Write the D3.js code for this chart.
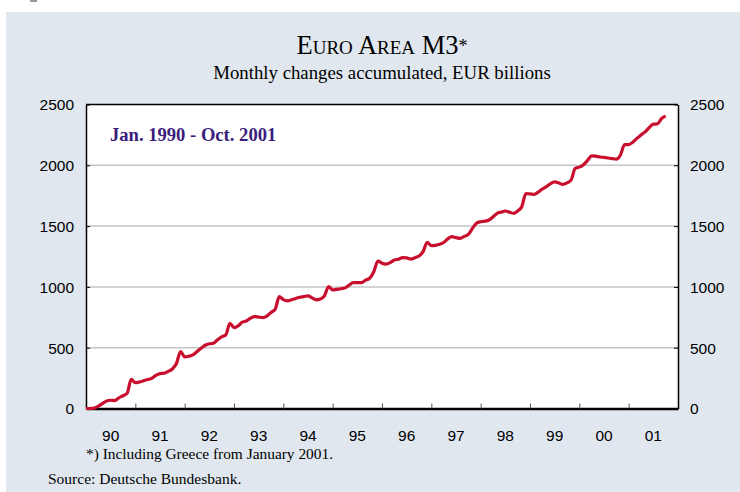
<!DOCTYPE html>
<html lang="en">
<head>
<meta charset="UTF-8">
<title>Euro Area M3</title>
<script src="https://cdn.jsdelivr.net/npm/d3@7"></script>
<style>
body{margin:0;background:#fff;}
svg{display:block;}
.tick text{font-family:"Liberation Sans",Arial,sans-serif;font-size:15.5px;fill:#000;}
.serif{font-family:"Liberation Serif","Times New Roman",serif;}
</style>
</head>
<body>
<script>
// monthly changes accumulated, EUR bn, Jan 1990 .. Oct 2001
var m3_1990=[0,0,3,20,40,62,68,65,88,105,125,240];
var m3_1991=[212,218,228,238,248,272,287,290,305,325,370,468];
var m3_1992=[425,430,441,468,496,520,532,537,565,590,605,701];
var m3_1993=[665,680,710,720,742,755,752,748,760,790,815,920];
var m3_1994=[895,885,895,905,915,920,926,910,893,900,926,1002];
var m3_1995=[975,980,985,992,1015,1035,1035,1035,1055,1071,1125,1213];
var m3_1996=[1195,1188,1200,1221,1228,1240,1238,1229,1240,1254,1290,1366];
var m3_1997=[1339,1342,1350,1365,1395,1413,1405,1399,1415,1432,1481,1525];
var m3_1998=[1536,1540,1550,1575,1605,1615,1624,1615,1605,1625,1659,1768];
var m3_1999=[1765,1761,1780,1805,1825,1850,1864,1855,1843,1855,1880,1975];
var m3_2000=[1985,2005,2040,2078,2075,2068,2065,2060,2055,2051,2085,2171];
var m3_2001=[2170,2190,2221,2250,2275,2310,2338,2340,2385,2406];
var yearLabels=["90","91","92","93","94","95","96","97","98","99","00","01"];
var yTicks=[0,500,1000,1500,2000,2500];

var values=[].concat(m3_1990,m3_1991,m3_1992,m3_1993,m3_1994,m3_1995,
  m3_1996,m3_1997,m3_1998,m3_1999,m3_2000,m3_2001);

var W=740,H=492;
var pL=86,pR=678,pT=104.5,pB=408.5;

var svg=d3.select("body").append("svg").attr("width",W).attr("height",H);

// panel
svg.append("rect").attr("x",6).attr("y",12).attr("width",W-6).attr("height",H-12).attr("fill","#e0e7ef");
svg.append("rect").attr("x",30).attr("y",0).attr("width",7).attr("height",2).attr("fill","#999");

var x=d3.scaleLinear().domain([0,144]).range([pL,pR]);
var y=d3.scaleLinear().domain([0,2500]).range([pB,pT]);

svg.append("rect").attr("x",pL).attr("y",pT).attr("width",pR-pL).attr("height",pB-pT).attr("fill","#fff");

// grid
svg.append("g").selectAll("line").data(yTicks.slice(1,-1)).enter().append("line")
  .attr("x1",pL).attr("x2",pR)
  .attr("y1",function(d){return y(d);}).attr("y2",function(d){return y(d);})
  .attr("stroke","#c4c4c4").attr("stroke-width",1.5);

// axes
var yl=svg.append("g").attr("transform","translate("+pL+",0)")
  .call(d3.axisLeft(y).tickValues(yTicks).tickFormat(d3.format("d")).tickSizeInner(-4).tickSizeOuter(0).tickPadding(12));
var yr=svg.append("g").attr("transform","translate("+pR+",0)")
  .call(d3.axisRight(y).tickValues(yTicks).tickFormat(d3.format("d")).tickSizeInner(-4).tickSizeOuter(0).tickPadding(12));
[yl,yr].forEach(function(g){
  g.select(".domain").attr("stroke","#000").attr("stroke-width",1.5);
  g.selectAll(".tick line").attr("stroke","#000");
  g.selectAll(".tick text").attr("dy","0.35em");
});

var xb=svg.append("g").attr("transform","translate(0,"+pB+")")
  .call(d3.axisBottom(x).tickValues(d3.range(12,144,12)).tickSizeInner(-5).tickSizeOuter(0).tickFormat(""));
xb.select(".domain").attr("stroke","#000").attr("stroke-width",2.5);
xb.selectAll(".tick line").attr("stroke","#555");

svg.append("g").selectAll("text").data(yearLabels).enter().append("text")
  .attr("x",function(d,i){return x(i*12+6);}).attr("y",pB+32)
  .attr("text-anchor","middle")
  .style("font-family","Liberation Sans,Arial,sans-serif").style("font-size","15.5px")
  .text(function(d){return d;});

svg.append("line").attr("x1",pL).attr("x2",pR).attr("y1",pT).attr("y2",pT)
  .attr("stroke","#000").attr("stroke-width",1.5);

// line
var line=d3.line().x(function(d,i){return x(i);}).y(function(d){return y(d);}).curve(d3.curveMonotoneX);
svg.append("path").datum(values).attr("d",line)
  .attr("fill","none").attr("stroke","#c8102e").attr("stroke-width",3.2)
  .attr("stroke-linejoin","round");

// titles
var t=svg.append("text").attr("class","serif").attr("x",382).attr("y",54)
  .attr("text-anchor","middle").style("font-size","26.5px");
t.append("tspan").style("font-variant","small-caps").text("Euro Area M3");
t.append("tspan").style("font-size","18px").attr("dy","-2").text("*");
svg.append("text").attr("class","serif").attr("x",382).attr("y",79)
  .attr("text-anchor","middle").style("font-size","18.8px")
  .text("Monthly changes accumulated, EUR billions");

svg.append("text").attr("class","serif").attr("x",110).attr("y",141)
  .style("font-size","18.6px").style("font-weight","bold").attr("fill","#3a1c7c")
  .text("Jan. 1990 - Oct. 2001");

svg.append("text").attr("class","serif").attr("x",86).attr("y",459)
  .style("font-size","15.4px").text("*) Including Greece from January 2001.");
svg.append("text").attr("class","serif").attr("x",48).attr("y",484)
  .style("font-size","15.5px").text("Source: Deutsche Bundesbank.");
</script>
</body>
</html>
